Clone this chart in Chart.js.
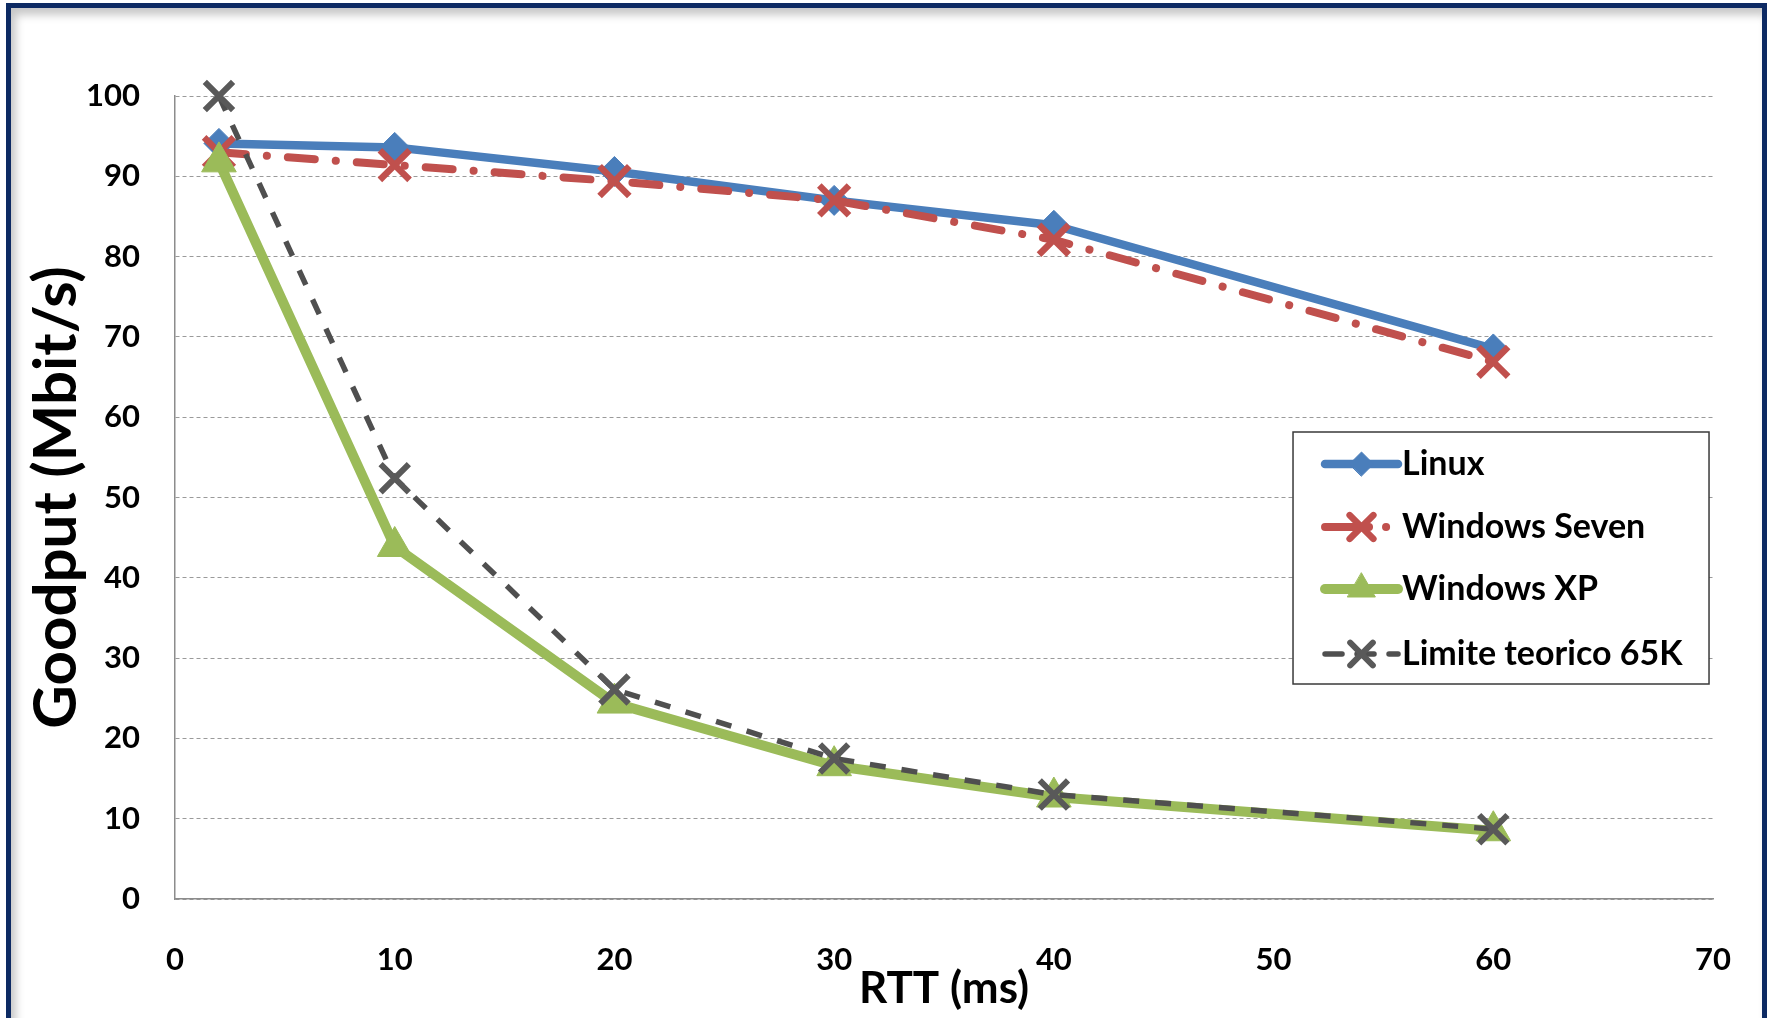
<!DOCTYPE html>
<html>
<head>
<meta charset="utf-8">
<script src="https://cdn.jsdelivr.net/npm/chart.js@4.4.1/dist/chart.umd.min.js"></script>
<style>
  html, body { margin: 0; padding: 0; background: #fff; }
  #wrap { position: relative; width: 1773px; height: 1018px; overflow: hidden; }
  #frame {
    position: absolute; left: 6px; top: 3px; width: 1751px; height: 1040px;
    border: 5px solid #0d2a63; background: #fff;
    box-shadow: inset 5px 7px 9px rgba(0,0,0,.22);
  }
  #c { position: absolute; left: 0; top: 0; }
</style>
</head>
<body>
<div id="wrap">
  <div id="frame"></div>
  <canvas id="c" width="1773" height="1018"></canvas>
</div>
<script>
// ── dati ─────────────────────────────────────────
const rtt      = [2, 10, 20, 30, 40, 60];
const linux    = [94.1, 93.6, 90.6, 87.0, 83.9, 68.5];
const winSeven = [93.0, 91.4, 89.4, 87.0, 82.1, 66.9];
const winXP    = [91.8, 43.9, 24.4, 16.6, 12.7, 8.5];
const limite   = [100, 52.4, 26.1, 17.5, 13.0, 8.7];
const nomi     = ['Linux', 'Windows Seven', 'Windows XP', 'Limite teorico 65K'];

const FONT = 'Lato, "Open Sans", sans-serif';
const pts = arr => arr.map((v, i) => ({ x: rtt[i], y: v }));

const datasets = [
  { label: nomi[0], data: pts(linux), borderColor: '#4a7ebb', backgroundColor: '#4a7ebb',
    borderWidth: 8.5, pointStyle: 'rectRot', pointRadius: 15, pointBorderWidth: 1,
    pointBackgroundColor: '#4a7ebb', pointBorderColor: '#4a7ebb', order: 3,
    legendDash: [] },
  { label: nomi[1], data: pts(winSeven), borderColor: '#c0504d', backgroundColor: '#c0504d',
    borderWidth: 8, borderDash: [27, 21, 0.1, 21], borderCapStyle: 'round',
    pointStyle: 'crossRot', pointRadius: 21, pointBorderWidth: 6.5,
    pointBackgroundColor: '#c0504d', pointBorderColor: '#c0504d', order: 2,
    legendDash: [44, 17, 0.1, 60] },
  { label: nomi[2], data: pts(winXP), borderColor: '#9bbb59', backgroundColor: '#9bbb59',
    borderWidth: 10, pointStyle: 'triangle', pointRadius: 20, pointBorderWidth: 1,
    pointBackgroundColor: '#9bbb59', pointBorderColor: '#9bbb59', order: 1,
    legendDash: [] },
  { label: nomi[3], data: pts(limite), borderColor: '#4f4f4f', backgroundColor: '#4f4f4f',
    borderWidth: 5.5, borderDash: [16, 16], borderCapStyle: 'butt',
    pointStyle: 'crossRot', pointRadius: 20, pointBorderWidth: 6,
    pointBackgroundColor: '#595959', pointBorderColor: '#595959', order: 0,
    legendDash: [17, 15] }
];
datasets.forEach(d => { d.clip = false; d.tension = 0; d.fill = false; d.borderJoinStyle = 'round'; });

// ── legenda disegnata a mano (linea + marker) ────
const legendaBox = {
  id: 'legendaBox',
  afterDraw(chart) {
    const { ctx, chartArea } = chart;
    const w = 416, h = 252;
    const x0 = chartArea.right - 4 - w, y0 = chartArea.top + 336;
    ctx.save();
    ctx.fillStyle = '#fff';
    ctx.fillRect(x0, y0, w, h);
    ctx.strokeStyle = '#3a3a3a';
    ctx.lineWidth = 1.5;
    ctx.strokeRect(x0, y0, w, h);

    const rows = [32, 95, 157, 222];
    datasets.forEach((d, i) => {
      const y = y0 + rows[i];
      const lx1 = x0 + 32, lx2 = x0 + 105, cx = (lx1 + lx2) / 2;
      ctx.save();
      ctx.strokeStyle = d.borderColor;
      ctx.lineWidth = d.borderWidth;
      ctx.lineCap = 'round';
      ctx.setLineDash(d.legendDash);
      ctx.beginPath(); ctx.moveTo(lx1, y); ctx.lineTo(lx2, y); ctx.stroke();
      ctx.setLineDash([]);
      ctx.fillStyle = d.pointBackgroundColor;
      ctx.strokeStyle = d.pointBorderColor;
      ctx.lineWidth = d.pointBorderWidth;
      Chart.helpers.drawPoint(ctx, {
        pointStyle: d.pointStyle, radius: d.pointRadius * 0.8,
        rotation: 0, borderWidth: d.pointBorderWidth
      }, cx, y);
      ctx.restore();

      ctx.fillStyle = '#000';
      ctx.font = 'bold 34px ' + FONT;
      ctx.textBaseline = 'middle';
      ctx.textAlign = 'left';
      ctx.fillText(d.label, x0 + 109, y);
    });
    ctx.restore();
  }
};

new Chart(document.getElementById('c'), {
  type: 'line',
  data: { datasets },
  plugins: [legendaBox],
  options: {
    responsive: false,
    animation: false,
    layout: { padding: { top: 96, right: 54, left: 0, bottom: 0 } },
    plugins: { legend: { display: false }, tooltip: { enabled: false } },
    scales: {
      x: {
        type: 'linear', min: 0, max: 70,
        ticks: { stepSize: 10, color: '#000', padding: 42,
                 font: { family: FONT, size: 31, weight: 'bold' } },
        grid: { display: false, drawTicks: false },
        border: { display: true, color: '#8c8c8c', width: 1.5 },
        title: { display: true, text: 'RTT (ms)', color: '#000',
                 font: { family: FONT, size: 44, weight: 'bold' },
                 padding: { top: 0, bottom: 3 } },
        afterFit: s => { s.height = 119; }
      },
      y: {
        min: 0, max: 100,
        ticks: { stepSize: 10, color: '#000', padding: 35,
                 font: { family: FONT, size: 31, weight: 'bold' } },
        grid: { color: '#9a9a9a', lineWidth: 1, drawTicks: false },
        border: { display: true, color: '#8c8c8c', width: 1.5, dash: [4, 3] },
        title: { display: true, text: 'Goodput (Mbit/s)', color: '#000',
                 font: { family: FONT, size: 60, weight: 'bold' },
                 padding: { top: 21, bottom: 0 } },
        afterFit: s => { s.width = 175; }
      }
    }
  }
});
</script>
</body>
</html>
